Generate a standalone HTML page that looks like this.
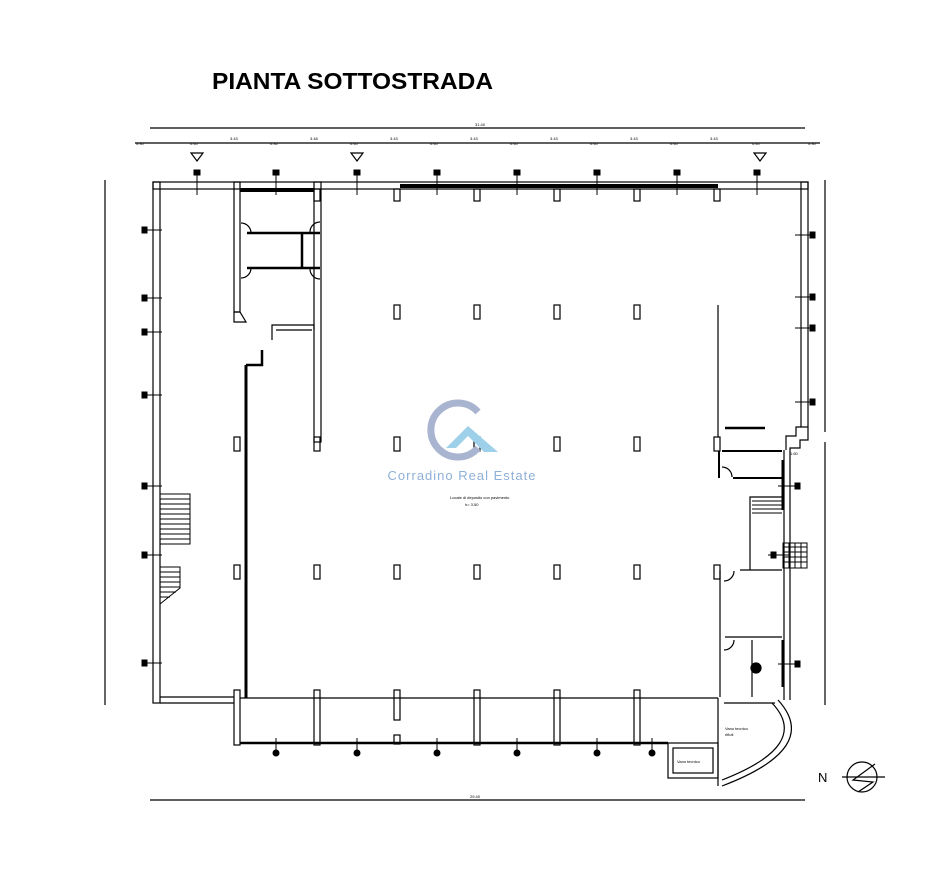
<!DOCTYPE html>
<html><head><meta charset="utf-8"><style>
html,body{margin:0;padding:0;background:#fff;}
svg{display:block}
</style></head><body>
<svg width="925" height="881" viewBox="0 0 925 881" xmlns="http://www.w3.org/2000/svg" font-family="Liberation Sans, sans-serif">
<rect width="925" height="881" fill="#fff"/>
<text x="212" y="89" font-size="23" font-weight="bold" fill="#000" textLength="281" lengthAdjust="spacingAndGlyphs">PIANTA SOTTOSTRADA</text>
<g stroke="#000" fill="none" stroke-width="1.2">
<line x1="150" y1="128" x2="805" y2="128"/>
<line x1="135" y1="143" x2="820" y2="143"/>
<line x1="105" y1="180" x2="105" y2="705"/>
<line x1="825" y1="180" x2="825" y2="432"/>
<line x1="825" y1="442" x2="825" y2="705"/>
<line x1="150" y1="800" x2="805" y2="800"/>
<polygon points="191,153 203,153 197,161"/>
<polygon points="351,153 363,153 357,161"/>
<polygon points="754,153 766,153 760,161"/>
<rect x="153" y="182" width="655" height="7"/>
<rect x="153" y="182" width="7" height="521"/>
<line x1="160" y1="697" x2="234" y2="697"/><line x1="160" y1="703" x2="234" y2="703"/>
<rect x="801" y="182" width="7" height="245"/>
<polyline points="808,427 808,440 800,440 800,448 790,448 790,700"/>
<polyline points="801,427 796,427 796,436 786,436 786,450"/>
<line x1="784" y1="450" x2="784" y2="700"/>
<line x1="240" y1="698" x2="718" y2="698"/>
<line x1="240" y1="743" x2="668" y2="743" stroke-width="2.5"/>
<rect x="234" y="690" width="6" height="55"/>
<rect x="314" y="690" width="6" height="55"/>
<rect x="394" y="690" width="6" height="30"/>
<rect x="394" y="735" width="6" height="9"/>
<rect x="474" y="690" width="6" height="55"/>
<rect x="554" y="690" width="6" height="55"/>
<rect x="634" y="690" width="6" height="55"/>
<line x1="246" y1="365" x2="246" y2="698" stroke-width="3"/>
<polyline points="246,365 262,365 262,350" stroke-width="2.5"/>
<polyline points="272,340 272,325 314,325 314,330"/>
<polyline points="276,330 312,330"/>
<rect x="314" y="182" width="7" height="260"/>
<rect x="234" y="182" width="6" height="130"/>
<polyline points="234,312 240,312 246,322 234,322 234,312"/>
<line x1="247" y1="233" x2="320" y2="233" stroke-width="2.5"/>
<line x1="247" y1="268" x2="320" y2="268" stroke-width="2.5"/>
<line x1="302" y1="233" x2="302" y2="268" stroke-width="2.5"/>
<path d="M241 223 a10 10 0 0 1 10 10"/><path d="M241 278 a10 10 0 0 0 10 -10"/>
<path d="M320 222 a10 10 0 0 0 -10 10"/><path d="M320 279 a10 10 0 0 1 -10 -10"/>
<line x1="240" y1="190" x2="314" y2="190" stroke-width="4"/>
<line x1="400" y1="186" x2="718" y2="186" stroke-width="4"/>
<rect x="314" y="189" width="6" height="12"/><rect x="394" y="189" width="6" height="12"/>
<rect x="474" y="189" width="6" height="12"/><rect x="554" y="189" width="6" height="12"/>
<rect x="634" y="189" width="6" height="12"/><rect x="714" y="189" width="6" height="12"/>
<g>
<rect x="394" y="305" width="6" height="14"/><rect x="474" y="305" width="6" height="14"/><rect x="554" y="305" width="6" height="14"/><rect x="634" y="305" width="6" height="14"/>
<rect x="234" y="437" width="6" height="14"/><rect x="314" y="437" width="6" height="14"/><rect x="394" y="437" width="6" height="14"/><rect x="474" y="437" width="6" height="14"/><rect x="554" y="437" width="6" height="14"/><rect x="634" y="437" width="6" height="14"/><rect x="714" y="437" width="6" height="14"/>
<rect x="234" y="565" width="6" height="14"/><rect x="314" y="565" width="6" height="14"/><rect x="394" y="565" width="6" height="14"/><rect x="474" y="565" width="6" height="14"/><rect x="554" y="565" width="6" height="14"/><rect x="634" y="565" width="6" height="14"/><rect x="714" y="565" width="6" height="14"/>
</g>
<line x1="718" y1="305" x2="718" y2="437"/>
<line x1="725" y1="428" x2="765" y2="428" stroke-width="2.5"/>
<line x1="722" y1="451" x2="782" y2="451" stroke-width="2"/>
<line x1="719" y1="451" x2="719" y2="478" stroke-width="2"/>
<line x1="733" y1="478" x2="782" y2="478" stroke-width="2"/>
<path d="M722 467 a10 10 0 0 1 10 10"/>
<line x1="783" y1="460" x2="783" y2="510" stroke-width="3"/>
<polyline points="750,570 750,497 782,497"/>
<g stroke-width="1"><line x1="752" y1="501" x2="782" y2="501"/><line x1="752" y1="505" x2="782" y2="505"/><line x1="752" y1="509" x2="782" y2="509"/><line x1="752" y1="513" x2="782" y2="513"/></g>
<rect x="783" y="543" width="24" height="25" stroke-width="1"/>
<g stroke-width="1"><line x1="783" y1="547" x2="807" y2="547"/><line x1="783" y1="552" x2="807" y2="552"/><line x1="783" y1="557" x2="807" y2="557"/><line x1="783" y1="562" x2="807" y2="562"/><line x1="789" y1="543" x2="789" y2="568"/><line x1="795" y1="543" x2="795" y2="568"/><line x1="801" y1="543" x2="801" y2="568"/></g>
<line x1="740" y1="570" x2="782" y2="570"/>
<line x1="720" y1="570" x2="720" y2="697"/>
<line x1="725" y1="637" x2="782" y2="637"/>
<line x1="752" y1="640" x2="752" y2="697"/>
<line x1="783" y1="640" x2="783" y2="687" stroke-width="3"/>
<path d="M724 581 a10 10 0 0 0 10 -10"/>
<path d="M724 650 a10 10 0 0 0 10 -10"/>
<ellipse cx="756" cy="668" rx="5" ry="5" fill="#000"/>
<line x1="718" y1="698" x2="718" y2="786"/>
<line x1="724" y1="703" x2="775" y2="703"/>
<path d="M772 703 Q812 745 722 780"/>
<path d="M778 700 Q822 748 722 786"/>
<rect x="668" y="743" width="50" height="35"/>
<rect x="673" y="748" width="40" height="25"/>
<rect x="160" y="494" width="30" height="50" stroke-width="1"/>
<g stroke-width="1"><line x1="160" y1="499" x2="190" y2="499"/><line x1="160" y1="504" x2="190" y2="504"/><line x1="160" y1="509" x2="190" y2="509"/><line x1="160" y1="514" x2="190" y2="514"/><line x1="160" y1="519" x2="190" y2="519"/><line x1="160" y1="524" x2="190" y2="524"/><line x1="160" y1="529" x2="190" y2="529"/><line x1="160" y1="534" x2="190" y2="534"/><line x1="160" y1="539" x2="190" y2="539"/></g>
<polyline points="160,567 180,567 180,588 160,604" stroke-width="1"/>
<g stroke-width="1"><line x1="160" y1="572" x2="180" y2="572"/><line x1="160" y1="577" x2="180" y2="577"/><line x1="160" y1="582" x2="180" y2="582"/><line x1="160" y1="587" x2="180" y2="587"/><line x1="160" y1="592" x2="176" y2="592"/><line x1="160" y1="597" x2="170" y2="597"/></g>
<circle cx="862" cy="777" r="15"/>
<line x1="842" y1="777" x2="885" y2="777"/>
<polyline points="875,764 853,780 873,782 858,792"/>
</g>
<g fill="#000" stroke="#000" stroke-width="1">
<line x1="197" y1="172" x2="197" y2="195"/><rect x="194" y="170" width="6" height="5"/>
<line x1="276" y1="172" x2="276" y2="195"/><rect x="273" y="170" width="6" height="5"/>
<line x1="357" y1="172" x2="357" y2="195"/><rect x="354" y="170" width="6" height="5"/>
<line x1="437" y1="172" x2="437" y2="195"/><rect x="434" y="170" width="6" height="5"/>
<line x1="517" y1="172" x2="517" y2="195"/><rect x="514" y="170" width="6" height="5"/>
<line x1="597" y1="172" x2="597" y2="195"/><rect x="594" y="170" width="6" height="5"/>
<line x1="677" y1="172" x2="677" y2="195"/><rect x="674" y="170" width="6" height="5"/>
<line x1="757" y1="172" x2="757" y2="195"/><rect x="754" y="170" width="6" height="5"/>
<line x1="142" y1="230" x2="162" y2="230"/><rect x="142" y="227" width="5" height="6"/>
<line x1="142" y1="298" x2="162" y2="298"/><rect x="142" y="295" width="5" height="6"/>
<line x1="142" y1="332" x2="162" y2="332"/><rect x="142" y="329" width="5" height="6"/>
<line x1="142" y1="395" x2="162" y2="395"/><rect x="142" y="392" width="5" height="6"/>
<line x1="142" y1="486" x2="162" y2="486"/><rect x="142" y="483" width="5" height="6"/>
<line x1="142" y1="555" x2="162" y2="555"/><rect x="142" y="552" width="5" height="6"/>
<line x1="142" y1="663" x2="162" y2="663"/><rect x="142" y="660" width="5" height="6"/>
<line x1="795" y1="235" x2="815" y2="235"/><rect x="810" y="232" width="5" height="6"/>
<line x1="795" y1="297" x2="815" y2="297"/><rect x="810" y="294" width="5" height="6"/>
<line x1="795" y1="328" x2="815" y2="328"/><rect x="810" y="325" width="5" height="6"/>
<line x1="795" y1="402" x2="815" y2="402"/><rect x="810" y="399" width="5" height="6"/>
<line x1="778" y1="486" x2="800" y2="486"/><rect x="795" y="483" width="5" height="6"/>
<line x1="768" y1="555" x2="790" y2="555"/><rect x="771" y="552" width="5" height="6"/>
<line x1="778" y1="664" x2="800" y2="664"/><rect x="795" y="661" width="5" height="6"/>
<line x1="276" y1="738" x2="276" y2="752"/><circle cx="276" cy="753" r="3"/>
<line x1="357" y1="738" x2="357" y2="752"/><circle cx="357" cy="753" r="3"/>
<line x1="437" y1="738" x2="437" y2="752"/><circle cx="437" cy="753" r="3"/>
<line x1="517" y1="738" x2="517" y2="752"/><circle cx="517" cy="753" r="3"/>
<line x1="597" y1="738" x2="597" y2="752"/><circle cx="597" cy="753" r="3"/>
<line x1="652" y1="738" x2="652" y2="752"/><circle cx="652" cy="753" r="3"/>
</g>
<g font-size="4" fill="#000">
<text x="450" y="499">Locale di deposito con pavimento</text>
<text x="465" y="506">h= 3.50</text>
<text x="677" y="763">Vano tecnico</text>
<text x="725" y="730">Vano tecnico</text>
<text x="725" y="736">rifiuti</text>
<text x="790" y="455">1.60</text>
<text x="475" y="126">31.40</text>
<text x="136" y="145">0.30</text><text x="190" y="145">0.40</text><text x="230" y="140">3.43</text><text x="270" y="145">0.30</text><text x="310" y="140">3.48</text><text x="350" y="145">0.40</text><text x="390" y="140">3.43</text><text x="430" y="145">0.40</text><text x="470" y="140">3.43</text><text x="510" y="145">0.40</text><text x="550" y="140">3.43</text><text x="590" y="145">0.40</text><text x="630" y="140">3.43</text><text x="670" y="145">0.40</text><text x="710" y="140">3.43</text><text x="752" y="145">0.40</text><text x="808" y="145">0.30</text>
<text x="470" y="798">29.40</text>
</g>
<path d="M478 412 A27 27 0 1 0 478 448" fill="none" stroke="#a9b4d0" stroke-width="7"/>
<polygon points="446,448 468,426 498,452 484,452 468,436 456,448" fill="#9ed0ea"/>
<text x="462" y="480" font-size="13" fill="#8fb0d8" text-anchor="middle" letter-spacing="1">Corradino Real Estate</text>
<text x="818" y="782" font-size="13" fill="#000">N</text>
</svg>
</body></html>
